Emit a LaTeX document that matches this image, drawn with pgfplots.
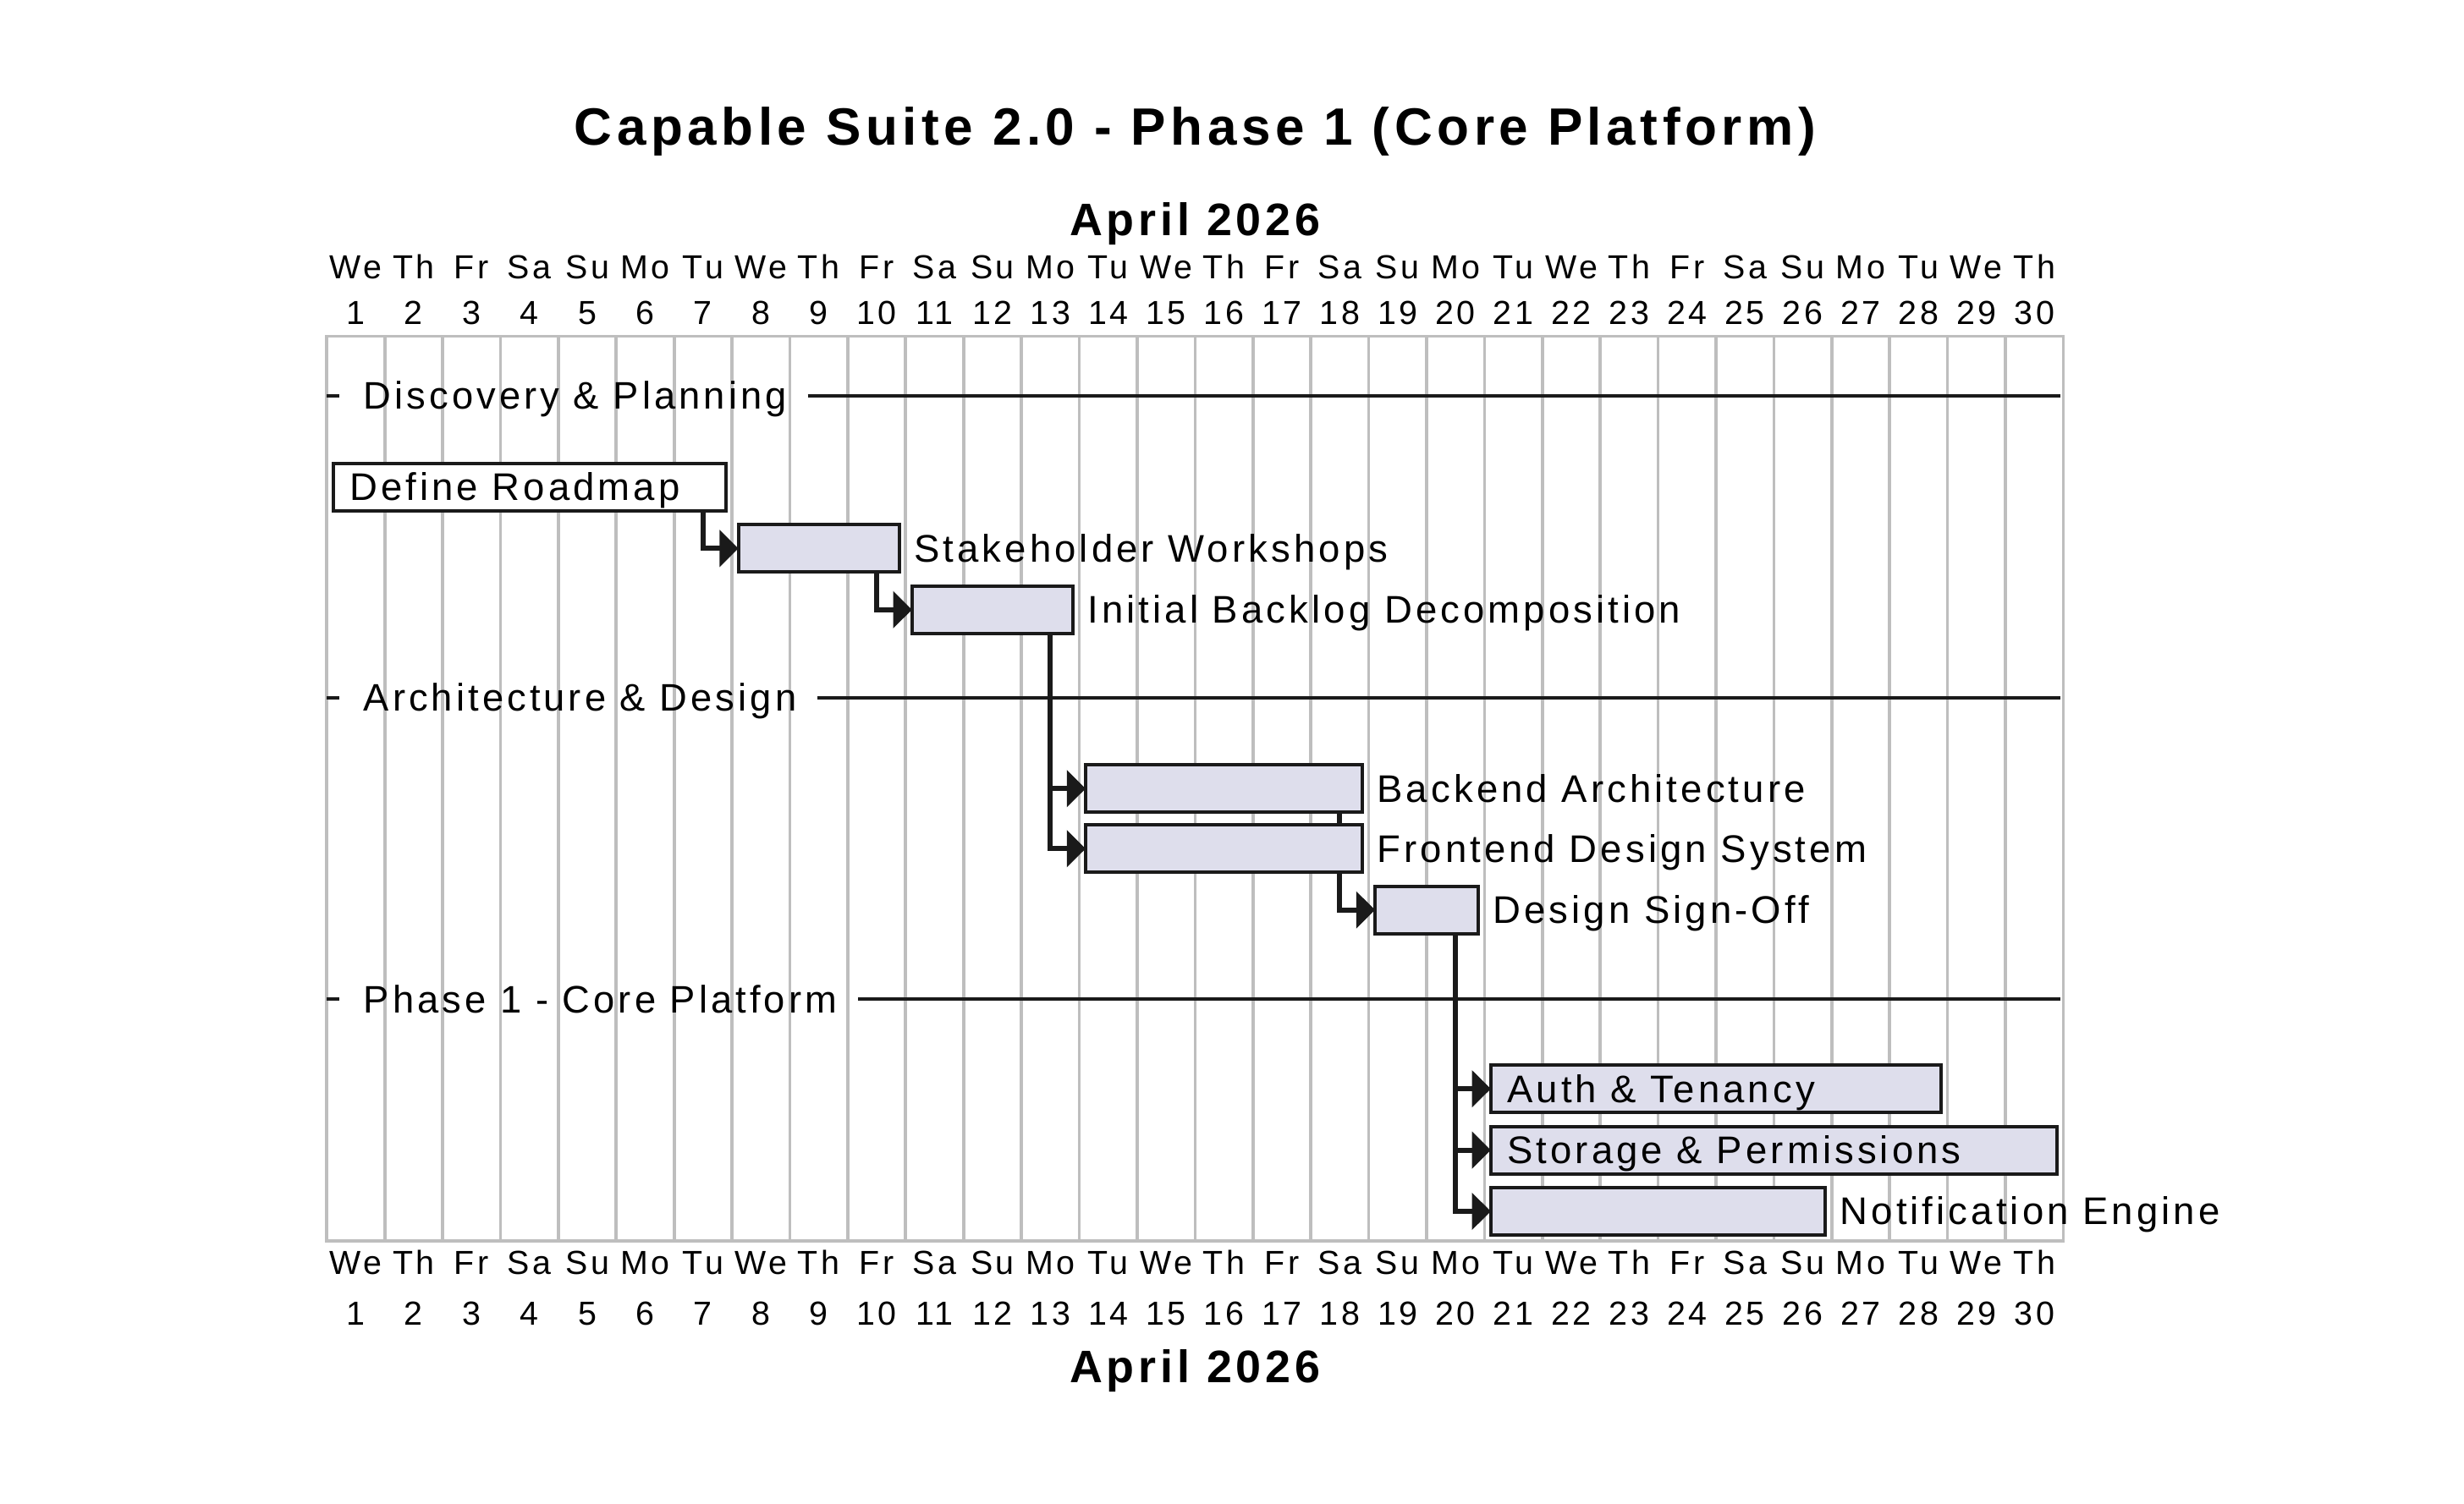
\documentclass[border=0pt]{standalone}
\usepackage{fontspec}
\setmainfont{Liberation Sans}[LetterSpace=9]
\usepackage{pgfplots}
\pgfplotsset{compat=1.18}
\usetikzlibrary{arrows.meta}
\definecolor{barfill}{RGB}{222,222,236}
\definecolor{ink}{RGB}{26,26,26}
\definecolor{gridgray}{RGB}{190,190,190}
\newcommand\grpfont{\fontsize{12.2}{14}\selectfont}
\newcommand\taskfont{\fontsize{12.25}{14}\selectfont}
\newcommand\dayfont{\fontsize{10.6}{12}\selectfont}
\begin{document}
\begin{tikzpicture}
\path[use as bounding box] (-104pt,-83.5pt) rectangle (680pt,395pt);
\begin{axis}[at={(276.25pt,144pt)}, anchor=center, scale only axis,
  width=552.5pt, height=288pt, xmin=0, xmax=30, ymin=0, ymax=14.92,
  y dir=reverse, xtick={0,...,30}, xticklabels={}, ytick=\empty,
  xmajorgrids, major tick length=0pt,
  grid style={gridgray, line width=1pt},
  axis line style={gridgray, line width=1pt},
  clip=false, no markers]
% group separators
\draw[ink, line width=1pt] (axis cs:0,0.98) -- (axis cs:0.217,0.98);
\node[anchor=base west, inner sep=0pt, font=\grpfont] (g1) at ([xshift=11.5pt, yshift=-4.3pt]axis cs:0,0.98) {Discovery \& Planning};
\draw[ink, line width=1pt] ([xshift=6.5pt, yshift=4.3pt]g1.base east) -- (axis cs:29.95,0.98);
\draw[ink, line width=1pt] (axis cs:0,5.96) -- (axis cs:0.217,5.96);
\node[anchor=base west, inner sep=0pt, font=\grpfont] (g2) at ([xshift=11.5pt, yshift=-4.3pt]axis cs:0,5.96) {Architecture \& Design};
\draw[ink, line width=1pt] ([xshift=6.5pt, yshift=4.3pt]g2.base east) -- (axis cs:29.95,5.96);
\draw[ink, line width=1pt] (axis cs:0,10.93) -- (axis cs:0.217,10.93);
\node[anchor=base west, inner sep=0pt, font=\grpfont] (g3) at ([xshift=11.5pt, yshift=-4.3pt]axis cs:0,10.93) {Phase 1 - Core Platform};
\draw[ink, line width=1pt] ([xshift=6.5pt, yshift=4.3pt]g3.base east) -- (axis cs:29.95,10.93);
% dependency connectors
\pgfplotsset{dep/.style={ink, line width=1.6pt, -{Triangle[length=6pt, width=11.5pt]}}}
\addplot[dep] coordinates {(6.5,2.88) (6.5,3.50) (7.11,3.50)};
\addplot[dep] coordinates {(9.5,3.89) (9.5,4.51) (10.11,4.51)};
\addplot[dep] coordinates {(12.5,4.90) (12.5,7.46) (13.11,7.46)};
\addplot[dep] coordinates {(12.5,4.90) (12.5,8.45) (13.11,8.45)};
\addplot[dep] coordinates {(17.5,7.85) (17.5,9.46) (18.11,9.46)};
\addplot[dep] coordinates {(19.5,9.85) (19.5,12.41) (20.11,12.41)};
\addplot[dep] coordinates {(19.5,9.85) (19.5,13.42) (20.11,13.42)};
\addplot[dep] coordinates {(19.5,9.85) (19.5,14.43) (20.11,14.43)};
% bars
\pgfplotsset{bar/.style={draw=ink, fill=barfill, line width=1.1pt}}
\addplot[bar, fill=white] coordinates {(0.11,2.10) (6.89,2.10) (6.89,2.88) (0.11,2.88)} -- cycle;
\addplot[bar] coordinates {(7.11,3.11) (9.89,3.11) (9.89,3.89) (7.11,3.89)} -- cycle;
\addplot[bar] coordinates {(10.11,4.12) (12.89,4.12) (12.89,4.90) (10.11,4.90)} -- cycle;
\addplot[bar] coordinates {(13.11,7.07) (17.89,7.07) (17.89,7.85) (13.11,7.85)} -- cycle;
\addplot[bar] coordinates {(13.11,8.06) (17.89,8.06) (17.89,8.84) (13.11,8.84)} -- cycle;
\addplot[bar] coordinates {(18.11,9.07) (19.89,9.07) (19.89,9.85) (18.11,9.85)} -- cycle;
\addplot[bar] coordinates {(20.11,12.02) (27.89,12.02) (27.89,12.80) (20.11,12.80)} -- cycle;
\addplot[bar] coordinates {(20.11,13.03) (29.89,13.03) (29.89,13.81) (20.11,13.81)} -- cycle;
\addplot[bar] coordinates {(20.11,14.04) (25.89,14.04) (25.89,14.82) (20.11,14.82)} -- cycle;
% task labels
\tikzset{tl/.style={anchor=base west, inner sep=0pt, font=\taskfont}}
\node[tl] at ([xshift=5pt, yshift=-4.3pt]axis cs:0.11,2.49) {Define Roadmap};
\node[tl] at ([xshift=4.5pt, yshift=-4.3pt]axis cs:9.89,3.50) {Stakeholder Workshops};
\node[tl] at ([xshift=4.5pt, yshift=-4.3pt]axis cs:12.89,4.51) {Initial Backlog Decomposition};
\node[tl] at ([xshift=4.5pt, yshift=-4.3pt]axis cs:17.89,7.46) {Backend Architecture};
\node[tl] at ([xshift=4.5pt, yshift=-4.3pt]axis cs:17.89,8.45) {Frontend Design System};
\node[tl] at ([xshift=4.5pt, yshift=-4.3pt]axis cs:19.89,9.46) {Design Sign-Off};
\node[tl] at ([xshift=5pt, yshift=-4.3pt]axis cs:20.11,12.41) {Auth \& Tenancy};
\node[tl] at ([xshift=5pt, yshift=-4.3pt]axis cs:20.11,13.42) {Storage \& Permissions};
\node[tl] at ([xshift=4.5pt, yshift=-4.3pt]axis cs:25.89,14.43) {Notification Engine};
\end{axis}
% day headers
\foreach \d/\n in {1/We,2/Th,3/Fr,4/Sa,5/Su,6/Mo,7/Tu,8/We,9/Th,10/Fr,11/Sa,12/Su,13/Mo,14/Tu,15/We,16/Th,17/Fr,18/Sa,19/Su,20/Mo,21/Tu,22/We,23/Th,24/Fr,25/Sa,26/Su,27/Mo,28/Tu,29/We,30/Th}{
  \node[anchor=base, inner sep=0pt, font=\dayfont] at ({(\d-0.5)*18.41667pt},306.15pt) {\n};
  \node[anchor=base, inner sep=0pt, font=\dayfont] at ({(\d-0.5)*18.41667pt},291.85pt) {\d};
  \node[anchor=base, inner sep=0pt, font=\dayfont] at ({(\d-0.5)*18.41667pt},-10.65pt) {\n};
  \node[anchor=base, inner sep=0pt, font=\dayfont] at ({(\d-0.5)*18.41667pt},-26.8pt) {\d};
}
\node[anchor=base, inner sep=0pt, font=\fontsize{14.5}{16}\selectfont\bfseries] at (276.25pt,320.1pt) {April 2026};
\node[anchor=base, inner sep=0pt, font=\fontsize{14.5}{16}\selectfont\bfseries] at (276.25pt,-45pt) {April 2026};
\node[anchor=base, inner sep=0pt, font=\fontsize{16.7}{19}\selectfont\bfseries] at (276.25pt,348.8pt) {Capable Suite 2.0 - Phase 1 (Core Platform)};
\end{tikzpicture}
\end{document}
